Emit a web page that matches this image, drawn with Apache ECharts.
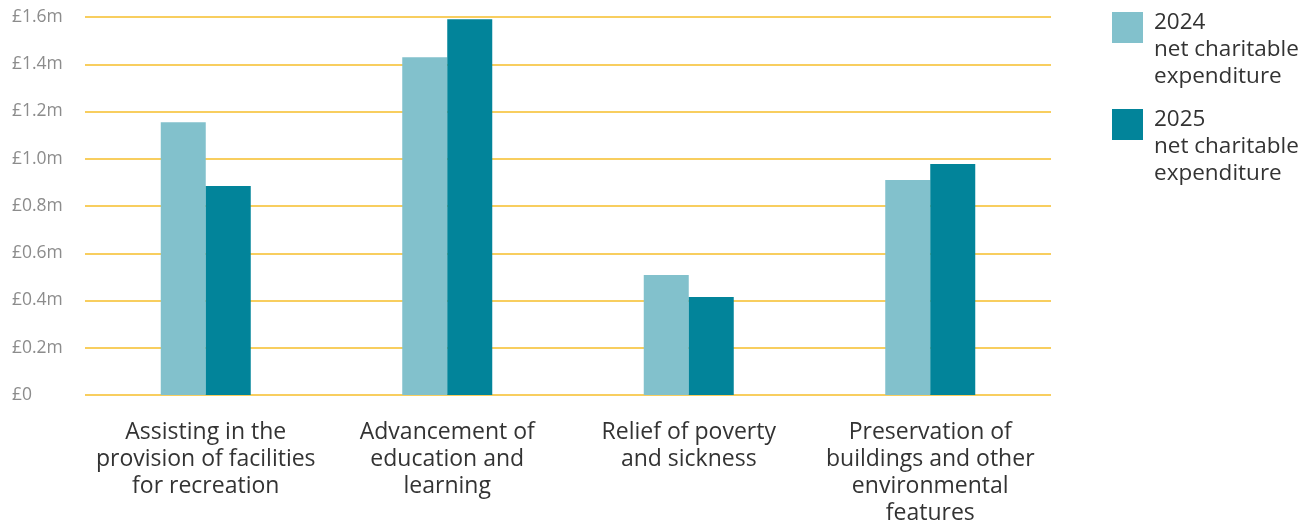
<!DOCTYPE html>
<html>
<head>
<meta charset="utf-8">
<script src="https://cdn.jsdelivr.net/npm/echarts@6/dist/echarts.min.js"></script>
<style>
  html, body { margin: 0; padding: 0; background: #ffffff; }
  #chart { width: 1305px; height: 525px; }
</style>
</head>
<body>
<div id="chart"></div>
<script>
// Data (values in £ millions)
const categories = [
  "Assisting in the\nprovision of facilities\nfor recreation",
  "Advancement of\neducation and\nlearning",
  "Relief of poverty\nand sickness",
  "Preservation of\nbuildings and other\nenvironmental\nfeatures"
];
const seriesNames = [
  "2024\nnet charitable\nexpenditure",
  "2025\nnet charitable\nexpenditure"
];
const values2024 = [1.155, 1.43, 0.508, 0.91];
const values2025 = [0.885, 1.59, 0.415, 0.978];
const yTicks = { min: 0, max: 1.6, interval: 0.2 };

const colors = ["#82C1CC", "#02849A"];
const FONT = "'Open Sans', Lato, sans-serif";

const legendText = {
  color: "#333333",
  fontSize: 22.5,
  fontFamily: FONT,
  rich: {
    e: { height: 44, lineHeight: 44, fontSize: 22.5, fontFamily: FONT },
    t: { lineHeight: 27, height: 27, fontSize: 22.5, fontFamily: FONT, color: "#333333", padding: [0, 0, 0, 6] }
  }
};
function legendFormatter(name) {
  return "{e|}\n" + name.split("\n").map(function (p) { return "{t|" + p + "}"; }).join("\n");
}

const chart = echarts.init(document.getElementById("chart"), null, { renderer: "canvas" });
chart.setOption({
  animation: false,
  color: colors,
  grid: { left: 85, right: 254, top: 17, bottom: 130, containLabel: false, outerBoundsMode: "none" },
  legend: [
    {
      data: [seriesNames[0]],
      left: 1112, top: -35, padding: 0,
      icon: "rect", itemWidth: 31, itemHeight: 31, itemGap: 0,
      formatter: legendFormatter,
      textStyle: legendText, selectedMode: false
    },
    {
      data: [seriesNames[1]],
      left: 1112, top: 62, padding: 0,
      icon: "rect", itemWidth: 31, itemHeight: 31, itemGap: 0,
      formatter: legendFormatter,
      textStyle: legendText, selectedMode: false
    }
  ],
  xAxis: {
    type: "category",
    data: categories,
    axisLine: { show: false },
    axisTick: { show: false },
    axisLabel: {
      interval: 0,
      margin: 24,
      color: "#333333",
      fontSize: 23,
      lineHeight: 27,
      fontFamily: FONT,
      align: "center"
    }
  },
  yAxis: {
    type: "value",
    min: yTicks.min, max: yTicks.max, interval: yTicks.interval,
    axisLine: { show: false },
    axisTick: { show: false },
    splitLine: { lineStyle: { color: "#F6BE2A", width: 1.5 } },
    axisLabel: {
      align: "left",
      margin: 73,
      color: "#8C8C8C",
      fontSize: 17.5,
      fontFamily: FONT,
      formatter: function (v) {
        return v === 0 ? "£0" : "£" + v.toFixed(1) + "m";
      }
    }
  },
  series: [
    { name: seriesNames[0], type: "bar", data: values2024, barWidth: 45, barGap: "0%" },
    { name: seriesNames[1], type: "bar", data: values2025, barWidth: 45, barGap: "0%" }
  ]
});
</script>
</body>
</html>
